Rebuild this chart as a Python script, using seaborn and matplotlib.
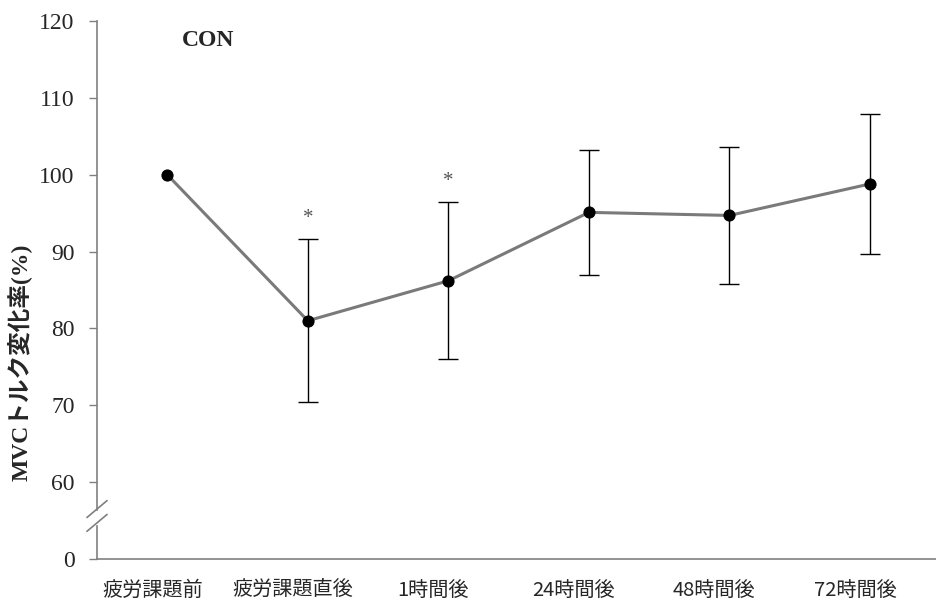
import matplotlib
matplotlib.use('Agg')
import matplotlib.pyplot as plt
import matplotlib.transforms as mtransforms
import numpy as np
import pandas as pd
import seaborn as sns

# data (the 0 on the y axis stands at the 50 position, below the break)
CATEGORIES = ['疲労課題前', '疲労課題直後', '1時間後', '24時間後', '48時間後', '72時間後']
MEANS = [100.0, 81.0, 86.2, 95.1, 94.7, 98.8]
SDS = [0.0, 10.6, 10.2, 8.1, 8.9, 9.1]
SIGNIF = [False, True, True, False, False, False]
Y_TICKS = [50, 60, 70, 80, 90, 100, 110, 120]
Y_TICK_LABELS = ['0', '60', '70', '80', '90', '100', '110', '120']

SERIF = ['Liberation Serif', 'Noto Sans CJK JP']
CJK = ['Noto Sans CJK JP', 'DejaVu Sans']

sns.set_style('white')
plt.rcParams['font.family'] = SERIF

df = pd.DataFrame({'x': np.arange(len(CATEGORIES)), 'mean': MEANS, 'sd': SDS})

fig = plt.figure(figsize=(9.36, 6.08), dpi=100)
ax = fig.add_axes([97 / 936, 49 / 608, 1 - 97 / 936, (559 - 21) / 608])

ax.errorbar(df['x'][1:], df['mean'][1:], yerr=df['sd'][1:], fmt='none',
            ecolor='black', elinewidth=1.0, capsize=7, capthick=1.0, zorder=2)
sns.lineplot(data=df, x='x', y='mean', ax=ax, color='#7a7a7a', linewidth=2.2,
             marker='o', markersize=8, markerfacecolor='black',
             markeredgecolor='black', zorder=3)

for i, flag in enumerate(SIGNIF):
    if flag:
        ax.text(i, MEANS[i] + SDS[i] + 1.5, '*', ha='center', va='bottom',
                fontsize=15, color='#555555')

ax.set_xlim(-0.5, 5.47)
ax.set_ylim(50, 120)
ax.set_yticks(Y_TICKS)
ax.set_yticklabels(Y_TICK_LABELS, fontsize=17)
ax.set_xticks(df['x'])
ax.set_xticklabels(CATEGORIES, family=CJK, fontsize=14.5)
ax.tick_params(axis='y', direction='out', length=6, width=1, color='#808080', pad=10, left=True)
ax.tick_params(axis='x', length=0, pad=15)
# category labels sit a little left of the points in the reference
shift = mtransforms.ScaledTranslation(-15 / 100, 0, fig.dpi_scale_trans)
for lab in ax.get_xticklabels():
    lab.set_transform(lab.get_transform() + shift)

ax.set_xlabel('')
ax.set_ylabel('MVCトルク変化率(%)', fontsize=17, fontweight='bold')
ax.yaxis.set_label_coords((33 - 97) / 839, (559 - 362) / 538)

for side in ['top', 'right']:
    ax.spines[side].set_visible(False)
for side in ['left', 'bottom']:
    ax.spines[side].set_color('#808080')
    ax.spines[side].set_linewidth(1.2)

# axis break marks
trans = ax.get_yaxis_transform()
ax.fill_between([-0.01, 0.01], [54.5, 54.5], [56.2, 56.2], transform=trans,
                color='white', zorder=4, clip_on=False)
for y0 in (53.6, 55.4):
    ax.plot([-0.012, 0.012], [y0, y0 + 2.2], transform=trans, color='#808080',
            linewidth=1.2, clip_on=False, zorder=5)

ax.text((182 - 97) / 839, (559 - 41) / 538, 'CON', transform=ax.transAxes,
        fontsize=17, fontweight='bold', ha='left', va='center')

fig.savefig('out.png', dpi=100)
